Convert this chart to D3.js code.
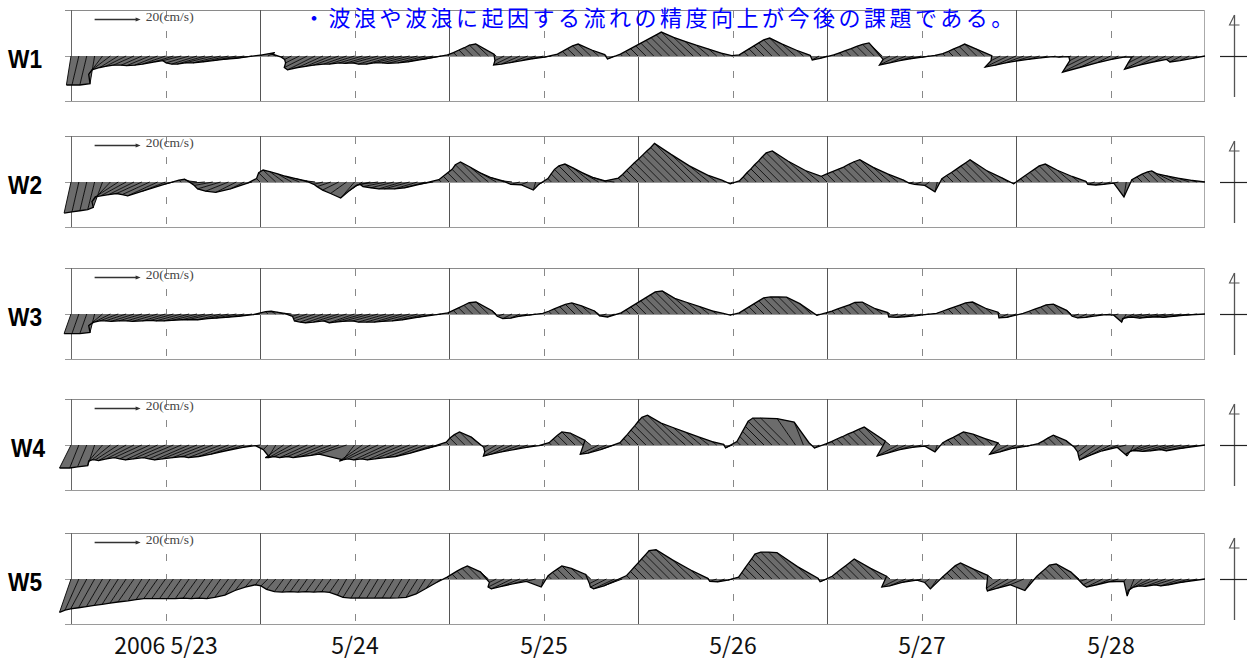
<!DOCTYPE html>
<html>
<head>
<meta charset="utf-8">
<script src="https://cdn.jsdelivr.net/npm/d3@7"></script>
<style>
  html, body { margin: 0; padding: 0; background: #fff; }
  svg { display: block; }
</style>
</head>
<body>
<svg id="chart" width="1251" height="660"></svg>
<script>
// Hourly current vectors (cm/s), 2006-05-23 00:00 .. 2006-05-29 00:00, east (u) and north (v)
const stations = ["W1", "W2", "W3", "W4", "W5"];
const dayLabels = ["2006 5/23", "5/24", "5/25", "5/26", "5/27", "5/28"];
const titleText = "・波浪や波浪に起因する流れの精度向上が今後の課題である。";
const scaleSpeed = 20;
const scaleLabel = "20(cm/s)";

const w1V = [
  -12.6, -12.6, -12.6, -12, -8, -6, -5, -4.5, -4, -4, -4.2, -4,
  -3.5, -2.5, -2, -3, -3.5, -3.5, -3, -3, -2.5, -2, -1.5, -1,
  0.5, 1.5, 1, -0.5, -1.5, -3, -5, -6, -5, -4.5, -4, -3.5,
  -3.5, -3, -3.2, -3, -3.5, -3.5, -3, -3, -3.2, -3, -2.5, -1.5,
  0.5, 1.5, 2.6, 3.6, 4.7, 5.2, 0.8, -2, -3.9, -3.5, -2.8, -2,
  -1.2, -0.5, 0.8, 2, 3.2, 4.4, 5.2, 2.6, 0.6, -1.3, 0.8, 2,
  3.2, 4.4, 5.6, 6.8, 8, 9.2, 10.4, 8.1, 6.4, 4.7, 3, 1.3,
  0.2, 0.5, 1.8, 3.1, 4.4, 5.7, 7, 7.8, 5.3, 2.5, 0.3, -1.7,
  -1, 0.5, 1.4, 2.3, 3.2, 4.2, 5.1, 5.7, -1.5, -3.9, -3, -2,
  -1.2, -0.5, 0.3, 1, 2, 3.1, 4.1, 5.2, 3, 0.2, -2, -4.8,
  -4, -3, -2.2, -1.5, -0.8, -0.3, -0.5, -0.3, -2, -4.5, -7, -5,
  -3, -1.5, -0.5, -0.5, -3, -5.7, -4, -2.5, -1.5, -2.6, -2, -1,
  0
];
const w1U = [
  -2, -3, -3, -2, -6, -8, -8, -9, -9, -9, -10, -10,
  -10, -8, -8, -10, -11, -12, -12, -12, -11, -10, -9, -7,
  1, 3, -2, -1, -3, -6, -10, -12, -11, -11, -11, -10,
  -11, -10, -11, -11, -12, -12, -12, -12, -13, -12, -11, -8,
  -0.6, -1.5, -2.5, -3.6, -4.8, -5.5, -1, -4, -8, -8, -7, -6,
  -5, -3, -0.8, -2, -3.3, -4.5, -5.5, -3, -0.8, -3, -0.8, -2,
  -3.2, -4.4, -5.6, -6.8, -8, -9.2, -10.4, -8.5, -7, -5.5, -3.5, -1.5,
  -0.3, -0.5, -1.8, -3.1, -4.4, -5.7, -7, -7.8, -6, -3, -0.5, -3,
  -3, -0.5, -1.4, -2.3, -3.2, -4.2, -5.1, -5.7, -3, -8, -7, -6,
  -5, -3, -1, -1, -2, -3.1, -4.1, -5.2, -3.5, -0.3, -4, -10,
  -9, -8, -7, -5, -3, -1, -2, -1, -4, -9, -14, -10,
  -6, -3, -1, -1, -6, -11, -8, -5, -3, -5, -4, -2,
  0
];

const w2V = [
  -13.5, -13, -12.5, -12, -11, -8.5, -6.5, -6, -5.5, -5, -5.5, -6,
  -4, -1, 0.8, 1.2, 0.5, -0.5, -1.5, -3, -4, -4.5, -3, -0.5,
  1.5, 4, 5.2, 4.5, 3.5, 2.5, 1.5, 0.5, -1, -2, -3.5, -5,
  -7, -4, -1.5, -1, -2, -2.5, -3, -3, -3, -2.5, -1, 1,
  2.5, 4, 5.5, 7.5, 8.7, 6.5, 4, 2, 0.5, -1, -1.2, -3.5,
  -1, 1.5, 3.5, 5.5, 7, 7.8, 6, 4, 2, 0.5, 1.7, 3.3,
  5, 6.7, 8.4, 10, 11.7, 13.4, 15, 16.8, 12, 7, 3, 0.8,
  -0.8, 0.5, 2.2, 4, 5.7, 7.5, 9.2, 11, 12.7, 13.5, 9, 5,
  2.5, 3.5, 4.5, 5.5, 6.5, 7.7, 8.8, 9.7, 6.5, 3.5, 0.8, -0.5,
  -1, -1.5, -4.3, 1.4, 2.8, 4.1, 5.5, 6.9, 8.3, 9.7, 5, 1.7,
  -0.8, 1.4, 2.8, 4.2, 5.6, 7, 7.8, 5.1, 2.4, 0.3, -1, -1.3,
  -1, -0.5, -6.5, 1, 2.2, 3.4, 4.4, 4.8, 3.5, 2.7, 1.7, 0.8,
  0
];
const w2U = [
  -3, -3, -3, -3, -4, -8, -10, -11, -11, -11, -12, -13,
  -10, -4, -1, -2, -4, -6, -8, -10, -10, -9, -6, -2,
  -1.5, -4, -5.5, -6, -6, -6, -5, -4, -4, -6, -7, -7,
  -6, -6, -6, -8, -10, -10, -10, -11, -10, -9, -6, -1,
  -2.5, -4, -5.5, -7.5, -8.7, -8, -7, -6, -4, -4, -3, -1,
  -2, -1.5, -3.5, -5.5, -7, -7.8, -7.5, -7, -6, -4, -1.7, -3.3,
  -5, -6.7, -8.4, -10, -11.7, -13.4, -15, -16.8, -13, -8.5, -4, -1.2,
  -1, -0.5, -2.2, -4, -5.7, -7.5, -9.2, -11, -12.7, -13.5, -10, -6,
  -2.5, -3.5, -4.5, -5.5, -6.5, -7.7, -8.8, -9.7, -7.5, -4.5, -1, -2,
  -3, -2, -1, -1.4, -2.8, -4.1, -5.5, -6.9, -8.3, -9.7, -6, -2.5,
  -1, -1.4, -2.8, -4.2, -5.6, -7, -7.8, -6, -3, -0.5, -3, -3,
  -3, -2, -1, -1, -2.2, -3.4, -4.4, -6, -7, -6.5, -5, -3,
  0
];

const w3V = [
  -8.5, -8.5, -8.5, -8, -5, -3.5, -3, -3, -3.2, -3, -3, -3.2,
  -3, -2.8, -3, -3, -2.8, -2.5, -2.5, -2.5, -2, -1.8, -1.5, -1,
  -0.3, 1, 1.2, 0.8, 0.3, -1, -2, -3, -3.5, -3.8, -3.5, -3,
  -3.8, -3.5, -3.2, -3, -3.5, -3.5, -3.5, -3.2, -3, -2.5, -1.5, -0.3,
  0.5, 1.6, 2.7, 3.8, 4.9, 5.2, 1.4, -1, -2, -1.8, -1, -0.5,
  0.3, 1.2, 2.2, 3.2, 4.2, 4.8, 3.5, 1.3, -0.8, -1.3, 0.5, 1.8,
  3.1, 4.4, 5.7, 7, 8.3, 9.6, 10, 6.8, 5, 3.2, 1.4, 0.3,
  -0.5, 0.5, 1.8, 3.1, 4.4, 5.7, 7, 7.4, 7.4, 7.3, 4.5, -0.6,
  0.5, 1.3, 2.2, 3.1, 4, 5, 5.2, 2.3, 0.6, -1.3, -1.5, -1.2,
  -0.8, -0.3, 0.3, 1.2, 2.1, 3, 3.9, 4.8, 5.2, 2.5, 0.8, -1.7,
  -1.5, 0.3, 1.2, 2.1, 3, 4, 4.3, 1.6, -1, -1.7, -1.5, -0.8,
  -0.3, -0.5, -3.5, -2, -1.5, -1.5, -1.8, -1.5, -1.2, -1.5, -1, -0.5,
  0
];
const w3U = [
  -3, -3, -3, -2, -6, -7, -8, -9, -10, -10, -10, -11,
  -10, -10, -11, -11, -11, -10, -11, -10, -9, -9, -8, -6,
  -3, -1, -2, -3, -3, -3, -6, -9, -10, -11, -11, -10,
  -11, -12, -12, -11, -12, -12, -12, -12, -11, -10, -7, -2,
  -0.5, -1.6, -2.7, -3.8, -4.9, -5.4, -1.8, -3, -4, -4, -4, -3,
  -0.3, -1.2, -2.2, -3.2, -4.2, -4.8, -4, -1.8, -3, -3, -0.5, -1.8,
  -3.1, -4.4, -5.7, -7, -8.3, -9.6, -10, -8, -6, -4, -2, -0.6,
  -1, -0.5, -1.8, -3.1, -4.4, -5.7, -7, -7.4, -7.4, -7.3, -5, -1,
  -0.5, -1.3, -2.2, -3.1, -4, -5, -5.2, -3, -1, -4, -4, -4,
  -3, -2, -0.3, -1.2, -2.1, -3, -3.9, -4.8, -5.2, -3, -1, -4,
  -4, -0.3, -1.2, -2.1, -3, -4, -4.3, -2, -3, -4, -4, -3,
  -2, -2, -2, -5, -6, -7, -8, -8, -7, -8, -7, -5,
  0
];

const w4V = [
  -10, -10, -9.5, -9, -7, -6.5, -6.5, -6.8, -6, -5.5, -6, -6.5,
  -6, -5.5, -6, -6.5, -6, -5.5, -5, -5.5, -5, -4, -2.5, -1,
  -0.3, -2, -5, -5.5, -5.5, -5, -5.5, -5, -5.5, -5, -4.5, -4,
  -6.5, -7, -6.5, -6, -6.5, -6, -6.5, -6, -5.5, -5, -3.5, -1.5,
  1.2, 3, 4.5, 5.7, 3.4, -1, -3, -4.8, -4, -3, -2, -1,
  -0.3, 1, 2.6, 4.2, 5.7, 5.2, 2, -4, -3.5, -2, 1, 2.8,
  4.6, 6.5, 8.3, 10.2, 12, 13, 9.5, 7.5, 5.5, 3.5, 1.5, 0.3,
  -1.2, 1.5, 3.7, 5.9, 8.1, 10.3, 11.7, 11.7, 11.5, 10, 1, -1.3,
  0.5, 1.5, 2.6, 3.6, 4.7, 5.7, 6.8, 7.8, 1.6, -4.8, -3.5, -2,
  -1, -0.5, -3, 1, 2.2, 3.3, 4.5, 5.7, 4.7, 2.8, 0.9, -4,
  -3, -1.5, -0.5, 0.6, 1.8, 3.1, 4.3, 1.9, -1, -3, -5, -6.5,
  -4.5, -2.5, -1, -4.8, -4, -2.5, -2.5, -2.8, -2.5, -2, -2.5, -1.5,
  0
];
const w4U = [
  -5, -4, -4, -3, -6, -8, -10, -12, -12, -12, -13, -14,
  -14, -13, -14, -15, -15, -14, -13, -14, -13, -11, -8, -4,
  -2, -2, -3, -8, -10, -11, -12, -12, -13, -13, -12, -12,
  -5, -10, -12, -13, -14, -14, -15, -15, -14, -13, -10, -6,
  -1.2, -3, -4.5, -5.7, -4, -2, -5, -9, -9, -8, -6, -4,
  -2, -1, -2.6, -4.2, -5.7, -5.5, -2.5, -8, -8, -6, -1, -2.8,
  -4.6, -6.5, -8.3, -10.2, -12, -13, -10.5, -8.5, -6.5, -4.5, -2, -0.5,
  -3, -1.5, -3.7, -5.9, -8.1, -10.3, -11.7, -11.7, -8, -4, -1, -2,
  -0.5, -1.5, -2.6, -3.6, -4.7, -5.7, -6.8, -7.8, -2, -9, -8, -6,
  -4, -2, -1, -1, -2.2, -3.3, -4.5, -5.7, -5, -3.2, -1, -8,
  -7, -5, -2, -0.6, -1.8, -3.1, -4.3, -2.2, -2, -4, -7, -10,
  -9, -7, -4, -3, -7, -8, -9, -10, -10, -9, -10, -7,
  0
];

const w5V = [
  -14.5, -13.5, -13, -12.5, -12, -11.5, -11, -10.5, -10, -9.5, -9, -8.5,
  -8.5, -8.5, -8.5, -8.5, -8.3, -8.5, -8.3, -8.5, -8, -7, -5, -3.5,
  -2.5, -3, -4.5, -5.5, -5.7, -5.5, -5.7, -5.5, -5.7, -5.5, -5.8, -7,
  -8, -8.3, -8.2, -8.3, -8.3, -8.2, -8.3, -8.2, -8, -6.5, -4, -1.5,
  0.8, 2.1, 3.4, 4.6, 5.7, 3.1, -1.5, -3.5, -4.3, -3.2, -2, -1,
  -3.5, 1.4, 2.9, 4.3, 5.7, 4.6, 2, -2, -3.5, -4.3, -3, 1.5,
  3.3, 5.1, 6.9, 8.7, 10.5, 12.3, 12.7, 8.3, 3.9, 0.3, -1, -1.2,
  -0.5, 0.8, 2.8, 4.8, 6.8, 8.8, 10.8, 11.7, 11.7, 11.5, 5.4, 0.3,
  -1.2, 1.2, 2.7, 4.2, 5.7, 7.2, 8.7, 4.6, 1.2, -3.5, -3, -1.5,
  -0.5, -1.5, -4.3, 1, 2.6, 4.2, 5.8, 7, 4.3, 1.6, -4, -5.2,
  -4, -2.5, -5, 1.2, 2.8, 4.4, 6, 6.5, 3, -1, -2.5, -3.5,
  -2.5, -1.2, -1, -7.4, -5, -3.5, -3, -3.2, -2.5, -3, -2.5, -1.5,
  0
];
const w5U = [
  -5, -6, -7, -7, -7, -7, -7, -7, -7, -6, -6, -6,
  -6, -6, -6, -6, -6, -6, -6, -6, -6, -5, -4, -3,
  -2, -3, -4, -4, -4, -4, -4, -4, -4, -4, -4, -4,
  -5, -5, -5, -5, -5, -5, -5, -5, -5, -4, -3, -2,
  -0.8, -2.1, -3.4, -4.6, -5.7, -3.5, -3, -7, -9, -8, -6, -4,
  -1, -1.4, -2.9, -4.3, -5.7, -5, -2.2, -4, -7, -9, -8, -1.5,
  -3.3, -5.1, -6.9, -8.7, -10.5, -12.3, -12.7, -9, -4.5, -0.5, -3, -3,
  -2, -0.8, -2.8, -4.8, -6.8, -8.8, -10.8, -11.7, -11.7, -11.5, -6, -0.5,
  -3, -1.2, -2.7, -4.2, -5.7, -7.2, -8.7, -5, -1.5, -7, -7, -5,
  -2, -2, -3, -1, -2.6, -4.2, -5.8, -7, -4.8, -2, -6, -9,
  -8, -6, -3, -1.2, -2.8, -4.4, -6, -6.5, -3.5, -3, -5, -7,
  -6, -4, -1, -3, -6, -7, -8, -9, -8, -9, -9, -7,
  0
];

const seriesU = [w1U, w2U, w3U, w4U, w5U];
const seriesV = [w1V, w2V, w3V, w4V, w5V];

// ---- layout ----
const panelTops = [10, 136, 268, 399, 533];
const panelH = 92;
const frameLeft = 65, frameRight = 1205;

const svg = d3.select("#chart");
const t0 = new Date(2006, 4, 23, 0, 0);
const t1 = new Date(2006, 4, 29, 0, 0);
const times = d3.timeHour.range(t0, d3.timeHour.offset(t1, 1));

const x = d3.scaleTime().domain([t0, t1]).range([71, 1205]);
// stick length scale: 20 cm/s -> 46 px, same on both axes
const speed = d3.scaleLinear().domain([0, 20]).range([0, 46]);

const midnights = d3.timeDay.range(d3.timeDay.offset(t0, 1), t1);
const noons = d3.timeDay.range(t0, t1).map(d => d3.timeHour.offset(d, 12));

const crisp = v => Math.round(v) + 0.5;

stations.forEach((name, i) => {
  const top = panelTops[i];
  const y = d3.scaleLinear().domain([-20, 20]).range([top + panelH, top]);
  const y0 = crisp(y(0));
  const g = svg.append("g").attr("class", "panel");

  // frame
  g.append("line").attr("x1", frameLeft).attr("x2", frameRight)
    .attr("y1", crisp(top)).attr("y2", crisp(top)).attr("stroke", "#8a8a8a");
  g.append("line").attr("x1", frameLeft).attr("x2", frameRight)
    .attr("y1", crisp(top + panelH - 1)).attr("y2", crisp(top + panelH - 1)).attr("stroke", "#9a9a9a");
  g.append("line").attr("x1", crisp(x(t0))).attr("x2", crisp(x(t0)))
    .attr("y1", top).attr("y2", top + panelH - 1).attr("stroke", "#666");
  g.append("line").attr("x1", crisp(x(t1)) - 1).attr("x2", crisp(x(t1)) - 1)
    .attr("y1", top).attr("y2", top + panelH - 1).attr("stroke", "#aaa");

  // day boundaries and noon marks
  g.selectAll(".day").data(midnights).join("line")
    .attr("x1", d => crisp(x(d))).attr("x2", d => crisp(x(d)))
    .attr("y1", top).attr("y2", top + panelH - 1)
    .attr("stroke", "#555");
  g.selectAll(".noon").data(noons).join("line")
    .attr("x1", d => crisp(x(d))).attr("x2", d => crisp(x(d)))
    .attr("y1", top + 1).attr("y2", top + panelH - 1)
    .attr("stroke", "#888").attr("stroke-dasharray", "7,13");

  // zero line
  g.append("line").attr("x1", frameLeft).attr("x2", frameRight)
    .attr("y1", y0).attr("y2", y0).attr("stroke", "#9a9a9a");

  // stick vectors
  const U = seriesU[i], V = seriesV[i];
  const pts = times.map((t, k) => ({
    bx: x(t), by: y(0),
    tx: x(t) + speed(U[k]), ty: y(V[k])
  }));

  // area swept between successive sticks
  const quad = d3.line();
  const sweeps = d3.range(pts.length - 1).map(k => [
    [pts[k].bx, pts[k].by], [pts[k].tx, pts[k].ty],
    [pts[k + 1].tx, pts[k + 1].ty], [pts[k + 1].bx, pts[k + 1].by]
  ]);
  g.append("g").selectAll("path").data(sweeps).join("path")
    .attr("d", d => quad(d) + "Z")
    .attr("fill", "#6c6c6c").attr("stroke", "none");

  g.append("g").selectAll("line").data(pts).join("line")
    .attr("x1", d => d.bx).attr("y1", d => d.by)
    .attr("x2", d => d.tx).attr("y2", d => d.ty)
    .attr("stroke", "#000").attr("stroke-width", 0.9);

  g.append("path")
    .attr("d", d3.line().x(d => d.tx).y(d => d.ty)(pts))
    .attr("fill", "none").attr("stroke", "#000").attr("stroke-width", 1.3);

  // station label
  g.append("text")
    .attr("x", i === 3 ? 11 : 8).attr("y", y0 + 11)
    .attr("font-family", "Liberation Sans, Arial, sans-serif")
    .attr("font-weight", "bold").attr("font-size", 26)
    .attr("textLength", 34).attr("lengthAdjust", "spacingAndGlyphs")
    .attr("fill", "#000").text(name);

  // velocity scale arrow
  const ax0 = x(d3.timeHour.offset(t0, 3));
  const ax1 = ax0 + speed(scaleSpeed);
  const ay = crisp(top + 9);
  g.append("line").attr("x1", ax0).attr("x2", ax1 - 3)
    .attr("y1", ay).attr("y2", ay).attr("stroke", "#333").attr("stroke-width", 1.3);
  g.append("path")
    .attr("d", `M${ax1},${ay} L${ax1 - 5},${ay - 2} L${ax1 - 5},${ay + 2} Z`)
    .attr("fill", "#333");
  g.append("text").attr("x", ax1 + 5).attr("y", top + 11)
    .attr("font-family", "Liberation Serif, serif").attr("font-size", 12)
    .attr("textLength", 48).attr("lengthAdjust", "spacingAndGlyphs")
    .attr("fill", "#444").text(scaleLabel);

  // north marker
  const nx = 1234.5;
  g.append("line").attr("x1", nx).attr("x2", nx)
    .attr("y1", top + 5).attr("y2", top + 87).attr("stroke", "#555").attr("stroke-width", 1.3);
  g.append("line").attr("x1", 1220).attr("x2", 1247)
    .attr("y1", y0).attr("y2", y0).attr("stroke", "#222").attr("stroke-width", 1.2);
  g.append("path")
    .attr("d", `M${nx},${top + 5} L${nx - 5},${top + 15} L${nx + 5},${top + 15}`)
    .attr("fill", "none").attr("stroke", "#555").attr("stroke-width", 1.1);
});

// date axis
const axis = d3.axisBottom(x)
  .tickValues(noons)
  .tickFormat((d, i) => dayLabels[i])
  .tickSize(0).tickPadding(4);
const ag = svg.append("g").attr("transform", "translate(0,634)").call(axis);
ag.select(".domain").remove();
ag.selectAll("text")
  .attr("font-family", "Noto Sans CJK JP, sans-serif")
  .attr("font-size", 23).attr("fill", "#111");

// headline
svg.append("text").attr("x", 303).attr("y", 26)
  .attr("font-family", "Noto Sans CJK JP, sans-serif")
  .attr("font-size", 22).attr("letter-spacing", 3.5).attr("fill", "#0000ff")
  .text(titleText);
</script>
</body>
</html>
